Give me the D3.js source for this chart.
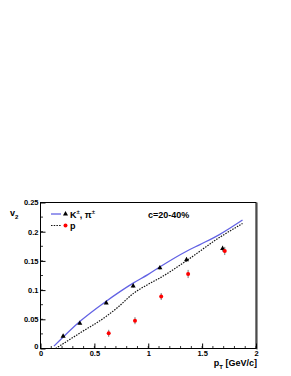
<!DOCTYPE html>
<html>
<head>
<meta charset="utf-8">
<script src="https://cdn.jsdelivr.net/npm/d3@7"></script>
<style>
  body { margin: 0; background: #fff; }
  svg { display: block; font-family: "Liberation Sans", Arial, sans-serif; }
</style>
</head>
<body>
<div id="chart"></div>
<script>
// v2 vs pT, centrality 20-40%
var kpiPt = [0.21, 0.365, 0.61, 0.86, 1.108, 1.355, 1.69];
var kpiV2 = [0.021, 0.043, 0.078, 0.107, 0.138, 0.152, 0.171];
var kpiErr = [0.002, 0.002, 0.002, 0.003, 0.003, 0.004, 0.005];

var protonPt = [0.633, 0.877, 1.12, 1.37, 1.71];
var protonV2 = [0.026, 0.0476, 0.089, 0.1276, 0.167];
var protonErr = [0.006, 0.006, 0.006, 0.007, 0.007];

// hydro curves
var solidPt = [0.125, 0.37, 0.61, 0.86, 1.0, 1.11, 1.36, 1.48, 1.66, 1.875];
var solidV2 = [0.004, 0.047, 0.081, 0.112, 0.127, 0.140, 0.167, 0.178, 0.195, 0.220];
var dashPt = [0.14, 0.37, 0.61, 0.72, 0.86, 1.0, 1.11, 1.36, 1.66, 1.875];
var dashV2 = [0.0, 0.027, 0.055, 0.071, 0.094, 0.110, 0.121, 0.151, 0.190, 0.214];

var xTicks = [0, 0.5, 1, 1.5, 2];
var xTickLabels = ["0", "0.5", "1", "1.5", "2"];
var yTicks = [0, 0.05, 0.1, 0.15, 0.2, 0.25];
var yTickLabels = ["0", "0.05", "0.1", "0.15", "0.2", "0.25"];

var width = 291, height = 376;
var plotLeft = 40.5, plotRight = 256, plotTop = 202.5, plotBottom = 348.5;

var svg = d3.select("#chart").append("svg")
    .attr("width", width)
    .attr("height", height);

svg.append("rect").attr("width", width).attr("height", height).attr("fill", "#fff");

var x = d3.scaleLinear().domain([0, 2]).range([plotLeft, plotRight]);
var y = d3.scaleLinear().domain([0, 0.25]).range([plotBottom, plotTop]);

// frame (with ROOT-ish grey edge on the right)
svg.append("line")
    .attr("x1", plotRight + 1).attr("x2", plotRight + 1)
    .attr("y1", plotTop).attr("y2", plotBottom + 1)
    .attr("stroke", "#999").attr("stroke-width", 2);
svg.append("rect")
    .attr("x", plotLeft).attr("y", plotTop)
    .attr("width", plotRight - plotLeft).attr("height", plotBottom - plotTop)
    .attr("fill", "none").attr("stroke", "#000").attr("stroke-width", 1);

// minor ticks
var gMinor = svg.append("g").attr("stroke", "#000").attr("stroke-width", 0.8);
d3.range(0, 2.001, 0.1).forEach(function(v) {
  gMinor.append("line")
      .attr("x1", x(v)).attr("x2", x(v))
      .attr("y1", plotBottom).attr("y2", plotBottom - 2.5);
});
d3.range(0, 0.2501, 0.025).forEach(function(v) {
  gMinor.append("line")
      .attr("x1", plotLeft).attr("x2", plotLeft + 2.5)
      .attr("y1", y(v)).attr("y2", y(v));
});

// axes
var xAxis = d3.axisBottom(x)
    .tickValues(xTicks)
    .tickSize(-5)
    .tickPadding(2)
    .tickFormat(function(d, i) { return xTickLabels[i]; });
var gx = svg.append("g")
    .attr("transform", "translate(0," + plotBottom + ")")
    .call(xAxis);
gx.select(".domain").remove();
gx.selectAll("text").attr("font-size", 7.5).attr("font-weight", "bold")
    .attr("fill", "#000").attr("font-family", "Liberation Sans, Arial, sans-serif");

var yAxis = d3.axisLeft(y)
    .tickValues(yTicks)
    .tickSize(-5)
    .tickPadding(2)
    .tickFormat(function(d, i) { return yTickLabels[i]; });
var gy = svg.append("g")
    .attr("transform", "translate(" + plotLeft + ",0)")
    .call(yAxis);
gy.select(".domain").remove();
gy.selectAll("text").attr("font-size", 7.5).attr("font-weight", "bold")
    .attr("fill", "#000").attr("font-family", "Liberation Sans, Arial, sans-serif");
gy.selectAll(".tick").filter(function(d) { return d === 0; })
    .select("text").attr("dy", "-0.05em");

// curves
var solid = solidPt.map(function(d, i) { return [d, solidV2[i]]; });
var dashed = dashPt.map(function(d, i) { return [d, dashV2[i]]; });
var line = d3.line()
    .curve(d3.curveMonotoneX)
    .x(function(d) { return x(d[0]); })
    .y(function(d) { return y(d[1]); });

svg.append("path").datum(solid)
    .attr("d", line)
    .attr("fill", "none")
    .attr("stroke", "#6262e4")
    .attr("stroke-width", 1.3);

svg.append("path").datum(dashed)
    .attr("d", line)
    .attr("fill", "none")
    .attr("stroke", "#111")
    .attr("stroke-width", 1.2)
    .attr("stroke-dasharray", "1.5,1.2");

// error bars
var gErr = svg.append("g").attr("stroke", "#777").attr("stroke-width", 1);
kpiPt.forEach(function(p, i) {
  gErr.append("line")
      .attr("x1", x(p)).attr("x2", x(p))
      .attr("y1", y(kpiV2[i] - kpiErr[i])).attr("y2", y(kpiV2[i] + kpiErr[i]));
});
protonPt.forEach(function(p, i) {
  gErr.append("line")
      .attr("x1", x(p)).attr("x2", x(p))
      .attr("y1", y(protonV2[i] - protonErr[i])).attr("y2", y(protonV2[i] + protonErr[i]));
});

// markers
var tri = d3.symbol().type(d3.symbolTriangle).size(11);
svg.append("g").selectAll("path")
    .data(kpiPt)
    .enter().append("path")
    .attr("d", tri)
    .attr("transform", function(d, i) { return "translate(" + x(d) + "," + y(kpiV2[i]) + ")"; })
    .attr("fill", "#000");

svg.append("g").selectAll("circle")
    .data(protonPt)
    .enter().append("circle")
    .attr("cx", function(d) { return x(d); })
    .attr("cy", function(d, i) { return y(protonV2[i]); })
    .attr("r", 2)
    .attr("fill", "#f00");

// legend
var leg = svg.append("g");
leg.append("line").attr("x1", 51).attr("x2", 61).attr("y1", 214).attr("y2", 214)
    .attr("stroke", "#6262e4").attr("stroke-width", 1.3);
leg.append("path").attr("d", tri).attr("transform", "translate(65.5,214)").attr("fill", "#000");
leg.append("line").attr("x1", 51).attr("x2", 61).attr("y1", 225.5).attr("y2", 225.5)
    .attr("stroke", "#111").attr("stroke-width", 1.2).attr("stroke-dasharray", "1.5,1.2");
leg.append("circle").attr("cx", 65.5).attr("cy", 225.5).attr("r", 2).attr("fill", "#f00");

var t1 = leg.append("text").attr("x", 70).attr("y", 217.5)
    .attr("font-size", 9).attr("font-weight", "bold");
t1.append("tspan").text("K");
t1.append("tspan").attr("font-size", 6).attr("dy", -3.5).text("±");
t1.append("tspan").attr("dy", 3.5).text(", π");
t1.append("tspan").attr("font-size", 6).attr("dy", -3.5).text("±");

leg.append("text").attr("x", 70).attr("y", 229)
    .attr("font-size", 9).attr("font-weight", "bold").text("p");

svg.append("text").attr("x", 148).attr("y", 217.5)
    .attr("font-size", 9).attr("font-weight", "bold").text("c=20-40%");

// axis titles
var yt = svg.append("text").attr("x", 10).attr("y", 216)
    .attr("font-size", 9).attr("font-weight", "bold");
yt.append("tspan").text("v");
yt.append("tspan").attr("font-size", 6).attr("dy", 2.5).text("2");

var xt = svg.append("text").attr("x", 257).attr("y", 366)
    .attr("text-anchor", "end")
    .attr("font-size", 9).attr("font-weight", "bold");
xt.append("tspan").text("p");
xt.append("tspan").attr("font-size", 6).attr("dy", 2.5).text("T");
xt.append("tspan").attr("dy", -2.5).text(" [GeV/c]");
</script>
</body>
</html>
